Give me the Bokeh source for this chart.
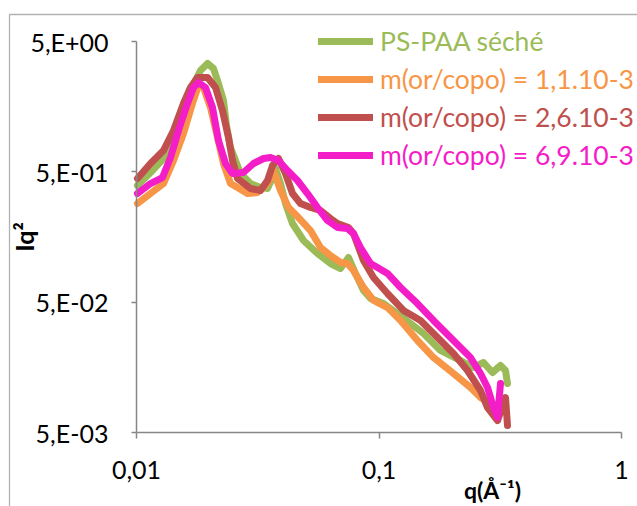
from bokeh.plotting import figure
from bokeh.models import Range1d, FixedTicker, Legend, LegendItem, Label, BoxAnnotation
from bokeh.embed import file_html
from bokeh.resources import INLINE

# ---------------- data ----------------
series_names = ["PS-PAA séché", "m(or/copo) = 1,1.10-3",
                "m(or/copo) = 2,6.10-3", "m(or/copo) = 6,9.10-3"]
series_colors = ["#9BBB59", "#F79646", "#C0504D", "#F41EC8"]

q_green = [0.01009, 0.01142, 0.01292, 0.01448, 0.01593, 0.01751, 0.01836, 0.01963,
           0.02077, 0.02158, 0.02284, 0.02350, 0.02441, 0.02685, 0.02952, 0.03246,
           0.03469, 0.03638, 0.03742, 0.03925, 0.04116, 0.04399, 0.04883, 0.05578,
           0.06310, 0.06937, 0.07484, 0.07997, 0.08633, 0.09225, 0.1044, 0.1192,
           0.1349, 0.1526, 0.1793, 0.2168, 0.2453, 0.2697, 0.2938, 0.3170, 0.3324, 0.3388]
I_green = [0.3927, 0.4941, 0.6328, 1.038, 1.614, 2.510, 2.996, 3.390,
           3.103, 2.510, 1.763, 1.134, 0.7685, 0.4855, 0.4068, 0.3791,
           0.3724, 0.4522, 0.5303, 0.4068, 0.2857, 0.2007, 0.1486, 0.1181,
           0.0990, 0.0906, 0.1101, 0.0830, 0.0614, 0.0534, 0.0488, 0.0409,
           0.0343, 0.0287, 0.0213, 0.01784, 0.01576, 0.01722, 0.01443, 0.01633, 0.01495, 0.01188]

q_orange = [0.01009, 0.01142, 0.01292, 0.01421, 0.01562, 0.01701, 0.01802, 0.01889,
            0.02019, 0.02158, 0.02284, 0.02441, 0.02609, 0.02869, 0.03155, 0.03469,
            0.03672, 0.03925, 0.04235, 0.04656, 0.05218, 0.05738, 0.06310, 0.06937,
            0.07413, 0.07847, 0.08633, 0.09491, 0.1084, 0.1227, 0.1441, 0.1678,
            0.2029, 0.2384, 0.2622, 0.2966]
I_orange = [0.2857, 0.3409, 0.4068, 0.6108, 0.9842, 1.672, 2.298, 2.218,
            1.558, 0.9170, 0.5793, 0.4068, 0.3791, 0.3409, 0.3470, 0.4068,
            0.5118, 0.3594, 0.2662, 0.2231, 0.1773, 0.1313, 0.1140, 0.1008,
            0.0990, 0.0875, 0.0648, 0.0515, 0.0455, 0.0362, 0.0254, 0.0188,
            0.01418, 0.01107, 0.00928, 0.00805]

q_red = [0.01009, 0.01142, 0.01292, 0.01421, 0.01562, 0.01670, 0.01784, 0.01963,
         0.02118, 0.02262, 0.02395, 0.02488, 0.02609, 0.02952, 0.03246, 0.03469,
         0.03638, 0.03851, 0.04116, 0.04399, 0.04746, 0.05218, 0.05738, 0.06310,
         0.06743, 0.07484, 0.07847, 0.08633, 0.09491, 0.1084, 0.1262, 0.1483,
         0.1743, 0.2029, 0.2317, 0.2622, 0.2803, 0.3082, 0.3324, 0.3388]
I_red = [0.4444, 0.5793, 0.7288, 1.038, 1.672, 2.218, 2.647, 2.647,
         2.218, 1.477, 0.9170, 0.6108, 0.4444, 0.3724, 0.3594, 0.4290,
         0.5593, 0.6328, 0.4855, 0.3409, 0.2857, 0.2662, 0.2525, 0.2193,
         0.2007, 0.1870, 0.1682, 0.1043, 0.0773, 0.0583, 0.0432, 0.0362,
         0.0268, 0.0202, 0.01495, 0.01050, 0.00777, 0.00618, 0.00928, 0.00566]

q_magenta = [0.01009, 0.01142, 0.01280, 0.01381, 0.01490, 0.01623, 0.01718, 0.01802,
             0.01925, 0.02058, 0.02178, 0.02328, 0.02488, 0.02762, 0.03038, 0.03340,
             0.03569, 0.03851, 0.04195, 0.04612, 0.05072, 0.05578, 0.06133, 0.06743,
             0.07413, 0.07847, 0.08389, 0.09225, 0.09858, 0.1084, 0.1227, 0.1441,
             0.1678, 0.2029, 0.2384, 0.2622, 0.2803, 0.2966, 0.3082, 0.3170]
I_magenta = [0.3409, 0.4068, 0.4522, 0.6441, 1.038, 1.672, 2.218, 2.423,
             2.218, 1.558, 0.8696, 0.5793, 0.4855, 0.4941, 0.5793, 0.6328,
             0.6441, 0.6108, 0.5118, 0.4290, 0.3409, 0.2662, 0.2116, 0.1870,
             0.1837, 0.1682, 0.1313, 0.0990, 0.0922, 0.0830, 0.0648, 0.0488,
             0.0362, 0.0254, 0.0188, 0.01418, 0.01107, 0.00777, 0.00652, 0.01188]

x_ticks = [0.01, 0.1, 1]
x_tick_labels = ["0,01", "0,1", "1"]
y_ticks = [0.005, 0.05, 0.5, 5]
y_tick_labels = ["5,E-03", "5,E-02", "5,E-01", "5,E+00"]
x_title = "q(Å⁻¹)"
y_title = "Iq²"

# ---------------- layout ----------------
W, H = 637, 506
PLOT_L, PLOT_R, PLOT_T, PLOT_B = 136, 621, 41, 432   # plot-area pixels


def log_view(lo, hi, p_lo, p_hi, size):
    """range ends so that [lo, hi] lands on pixels [p_lo, p_hi] of a view of `size` px"""
    import math
    a, b = math.log10(lo), math.log10(hi)
    per_px = (b - a) / (p_hi - p_lo)
    return 10 ** (a - p_lo * per_px), 10 ** (a + (size - p_lo) * per_px)


x0, x1 = log_view(x_ticks[0], x_ticks[-1], PLOT_L, PLOT_R, W)
y0, y1 = log_view(y_ticks[0], y_ticks[-1], H - PLOT_B, H - PLOT_T, H)

FONT = "Lato"
AXIS_GREY = "#868686"

p = figure(width=W, height=H, x_axis_type="log", y_axis_type="log",
           x_range=Range1d(x0, x1), y_range=Range1d(y0, y1),
           output_backend="svg", toolbar_location=None,
           min_border=0)
p.outline_line_color = None
p.xgrid.visible = False
p.ygrid.visible = False
p.background_fill_color = "white"
p.border_fill_color = "white"

for ax in (p.xaxis[0], p.yaxis[0]):
    ax.axis_line_color = AXIS_GREY
    ax.axis_line_width = 1.5
    ax.major_tick_line_color = AXIS_GREY
    ax.major_tick_line_width = 1.5
    ax.major_tick_in = 0
    ax.minor_tick_line_color = None
    ax.major_label_text_font = FONT
    ax.major_label_text_font_size = "25px"
    ax.major_label_text_color = "black"

p.xaxis.ticker = FixedTicker(ticks=x_ticks)
p.xaxis.major_label_overrides = dict(zip(x_ticks, x_tick_labels))
p.xaxis.major_tick_out = 6
p.xaxis.major_label_standoff = 22
p.xaxis.bounds = (x_ticks[0], x_ticks[-1])
p.xaxis.fixed_location = y_ticks[0]

p.yaxis.ticker = FixedTicker(ticks=y_ticks)
p.yaxis.major_label_overrides = dict(zip(y_ticks, y_tick_labels))
p.yaxis.major_tick_out = 5
p.yaxis.major_label_standoff = 23
p.yaxis.bounds = (y_ticks[0], y_ticks[-1])
p.yaxis.fixed_location = x_ticks[0]
p.yaxis.axis_label = y_title
p.yaxis.axis_label_text_font = FONT
p.yaxis.axis_label_text_font_style = "bold"
p.yaxis.axis_label_text_font_size = "25px"
p.yaxis.axis_label_text_color = "black"
p.yaxis.axis_label_standoff = -12

series = [(q_green, I_green), (q_orange, I_orange), (q_red, I_red), (q_magenta, I_magenta)]
renderers = []
for (qs, Is), col in zip(series, series_colors):
    r = p.line(qs, Is, line_color=col, line_width=7, line_cap="round", line_join="round")
    renderers.append(r)

# one legend per entry so each label takes its series colour
legend_row_centres = [47, 85, 123, 161]
for r, name, col, yc in zip(renderers, series_names, series_colors, legend_row_centres):
    lg = Legend(items=[LegendItem(label=name, renderers=[r])],
                location=(318, H - (yc + 10)))
    lg.label_text_color = col
    lg.label_text_font = FONT
    lg.label_text_font_size = "26.5px"
    lg.padding = 0
    lg.margin = 0
    lg.spacing = 0
    lg.border_line_color = None
    lg.background_fill_alpha = 0
    lg.glyph_width = 55
    lg.glyph_height = 20
    lg.label_height = 20
    lg.label_standoff = 7
    p.add_layout(lg)

# x-axis title (right of centre, as in the reference)
p.add_layout(Label(x=492, y=H - 489, x_units="screen", y_units="screen", text=x_title,
                   text_font=FONT, text_font_style="bold", text_font_size="23px",
                   text_align="center", text_baseline="middle", text_color="black"))

# chart-area frame line (left and top edges; the rest lies outside the window)
p.add_layout(BoxAnnotation(left=9, right=W + 500, top=H - 14, bottom=-500,
                           left_units="screen", right_units="screen",
                           top_units="screen", bottom_units="screen",
                           fill_color=None, line_color="black", line_width=1.3))

open("out.html", "w").write(file_html(p, INLINE))
